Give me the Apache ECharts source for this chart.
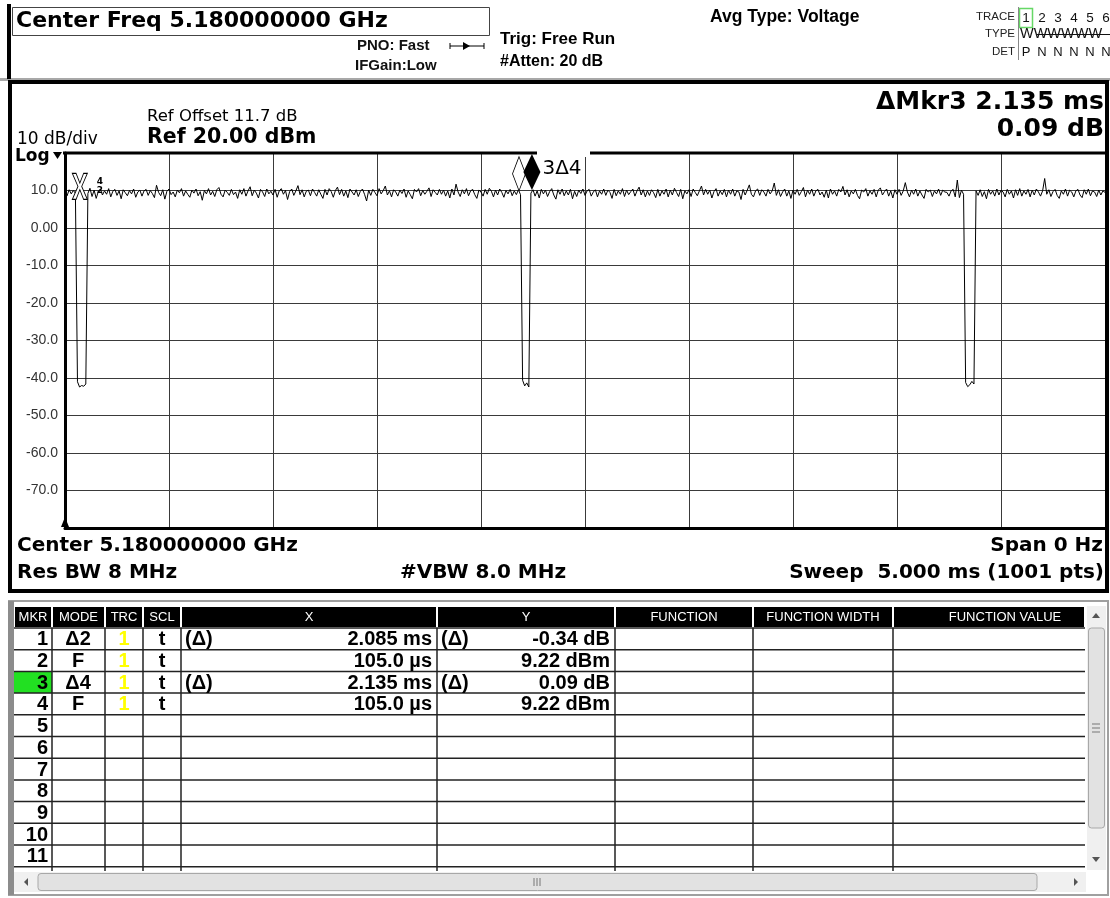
<!DOCTYPE html>
<html>
<head>
<meta charset="utf-8">
<script src="https://cdn.jsdelivr.net/npm/echarts@6/dist/echarts.min.js"></script>
<style>
  html, body { margin: 0; padding: 0; background: #fff; }
  #main { width: 1110px; height: 898px; }
</style>
</head>
<body>
<div id="main"></div>
<script>
// sweep: 0..5 ms, one reading every 0.01 ms (dBm)
const STEP_MS = 0.01;
const traceDb = [
  9.8, 8.6, 10.2, 9.1, 10.0, 9.3, -41.0, -42.4, -42.0, -42.2, -41.6, 9.2, 10.6, 8.4, 10.1, 7.9, 9.7, 10.4, 8.8, 9.9,
  9.0, 10.5, 8.3, 9.8, 10.3, 8.7, 9.9, 7.8, 10.2, 9.4, 8.6, 10.0, 9.1, 10.4, 8.2, 9.6, 10.1, 8.5, 9.9, 10.3,
  8.7, 10.0, 9.2, 8.1, 11.4, 9.5, 8.6, 10.2, 7.7, 9.8, 10.4, 8.9, 9.6, 8.3, 10.1, 9.4, 10.5, 8.5, 9.9, 9.0,
  8.2, 10.1, 9.3, 10.4, 8.6, 9.7, 7.4, 10.0, 9.1, 10.5, 8.8, 9.8, 8.4, 10.2, 10.8, 9.0, 8.3, 10.1, 9.5, 8.7,
  10.3, 8.9, 9.6, 7.9, 10.2, 9.0, 10.5, 8.5, 9.9, 11.0, 8.6, 10.1, 9.3, 8.0, 10.3, 9.6, 8.4, 10.4, 9.1, 9.8,
  8.8, 10.3, 8.2, 9.9, 10.5, 9.0, 10.0, 7.6, 9.7, 10.4, 8.7, 9.9, 11.3, 8.9, 10.2, 8.3, 9.8, 10.1, 8.6, 10.4,
  9.5, 8.5, 10.2, 9.0, 7.9, 10.3, 8.8, 10.5, 9.7, 8.2, 10.0, 10.9, 8.9, 10.3, 8.5, 9.9, 8.1, 10.4, 9.6, 8.8,
  10.2, 8.4, 9.8, 10.4, 9.0, 7.2, 10.1, 8.7, 10.3, 9.5, 8.6, 10.5, 9.1, 10.0, 11.2, 8.8, 9.9, 8.3, 10.2, 9.6,
  8.5, 10.1, 9.2, 10.4, 8.2, 9.9, 8.9, 7.8, 10.3, 9.6, 10.5, 8.6, 10.0, 9.0, 9.8, 10.7, 8.4, 10.2, 9.5, 8.8,
  10.3, 9.0, 10.1, 8.5, 9.9, 8.0, 10.4, 8.8, 11.7, 9.6, 8.4, 10.2, 9.1, 10.5, 8.6, 9.9, 10.3, 8.9, 7.9, 10.1,
  9.6, 8.5, 10.3, 9.0, 10.6, 9.8, 8.3, 10.1, 8.8, 10.4, 9.5, 8.2, 10.0, 9.1, 10.3, 8.6, 9.9, 8.9, 10.2, 8.88,
  -40.6, -42.1, -41.3, -42.4, 9.31, 10.2, 8.5, 9.9, 8.0, 10.3, 9.1, 10.1, 8.4, 9.7, 10.5, 8.8, 7.7, 10.2, 9.0, 10.4,
  8.6, 9.9, 8.8, 10.3, 7.8, 9.8, 8.4, 10.1, 9.2, 10.4, 8.7, 9.9, 10.3, 8.5, 9.6, 10.2, 8.3, 9.9, 9.0, 10.4,
  8.7, 10.1, 9.5, 7.9, 10.3, 8.6, 9.9, 9.0, 10.5, 8.4, 10.1, 8.9, 9.7, 10.4, 8.5, 9.9, 10.9, 8.8, 10.2, 8.3,
  9.9, 8.7, 10.2, 9.4, 8.1, 10.3, 8.5, 9.9, 9.0, 10.4, 8.3, 10.1, 8.8, 10.6, 9.5, 8.4, 10.3, 7.8, 9.9, 9.1,
  10.2, 8.4, 10.4, 9.5, 8.6, 9.9, 11.2, 8.8, 10.3, 9.0, 10.1, 8.0, 9.7, 10.5, 8.5, 9.9, 8.9, 10.3, 8.3, 10.1,
  9.0, 10.4, 8.5, 9.9, 9.6, 7.6, 10.3, 8.8, 10.1, 11.5, 9.0, 8.3, 9.9, 10.4, 8.7, 10.2, 9.6, 8.5, 10.3, 9.1,
  9.9, 12.0, 8.7, 10.2, 8.4, 9.6, 10.4, 8.5, 9.9, 7.9, 10.1, 9.0, 10.3, 8.7, 9.7, 10.8, 8.3, 10.1, 9.0, 10.4,
  8.5, 9.9, 10.3, 8.8, 9.6, 8.2, 10.1, 8.0, 10.4, 9.0, 9.9, 8.5, 10.3, 9.6, 11.1, 8.8, 10.2, 8.3, 9.9, 9.1,
  10.3, 8.7, 7.8, 10.1, 9.6, 10.5, 8.5, 9.9, 9.0, 10.3, 8.3, 10.1, 10.7, 8.8, 9.7, 10.4, 8.5, 9.9, 8.0, 10.2,
  9.0, 10.3, 8.7, 9.9, 12.1, 9.6, 8.3, 10.1, 9.0, 10.4, 8.5, 9.9, 8.8, 7.9, 10.3, 9.6, 10.1, 8.4, 9.9, 9.1,
  10.4, 8.7, 10.1, 9.6, 9.5, 8.5, 9.9, 10.3, 8.3, 12.8, 8.1, 10.1, 9.0, -41.2, -42.3, -41.8, -40.9, -41.6, 9.9, 8.7,
  10.2, 8.4, 9.7, 7.8, 10.3, 9.0, 9.9, 8.5, 10.4, 8.8, 10.1, 9.6, 8.3, 10.3, 9.0, 9.9, 8.0, 10.2, 8.7, 10.5,
  8.5, 9.9, 9.0, 10.3, 8.3, 10.1, 8.8, 10.4, 9.6, 8.5, 9.9, 13.2, 9.0, 10.2, 8.4, 9.7, 10.3, 8.7, 7.9, 9.9,
  9.0, 10.4, 8.5, 10.1, 9.6, 8.3, 9.9, 10.3, 8.8, 8.1, 10.2, 9.0, 10.4, 8.6, 9.9, 9.6, 8.4, 10.1, 8.8, 9.9,
  9.5
];

// markers (time in ms, level in dBm)
const mkrNum = ['1', '2', '3', '4'];
const mkrMode = ['\u03942', 'F', '\u03944', 'F'];
const mkrTime = [2.19, 0.105, 2.24, 0.105];
const mkrLevel = [8.88, 9.22, 9.31, 9.22];
const mkrXText = ['2.085 ms', '105.0 \u00b5s', '2.135 ms', '105.0 \u00b5s'];
const mkrYText = ['-0.34 dB', '9.22 dBm', '0.09 dB', '9.22 dBm'];
const mkrDelta = [true, false, true, false];

const tableHeads = ['MKR', 'MODE', 'TRC', 'SCL', 'X', 'Y', 'FUNCTION', 'FUNCTION WIDTH', 'FUNCTION VALUE'];

const chart = echarts.init(document.getElementById('main'));

const traceData = traceDb.map((v, i) => [+(i * STEP_MS).toFixed(3), v]);

// drawing helpers for the instrument screen furniture
const els = [];
function txt(x, y, s, size, o) {
  o = o || {};
  const al = o.align || 'left';
  els.push({
    type: 'text', x: x, y: y, z: o.z || 20,
    style: {
      text: s, fill: o.color || '#000', fontSize: size,
      fontWeight: o.bold ? 'bold' : 'normal',
      fontFamily: o.font || 'DejaVu Sans',
      align: al, textAlign: al, verticalAlign: 'middle', textVerticalAlign: 'middle'
    }
  });
}
function rect(x, y, w, h, fill, stroke, lw, z, r) {
  els.push({
    type: 'rect', z: z || 5,
    shape: { x: x, y: y, width: w, height: h, r: r || 0 },
    style: { fill: fill || 'none', stroke: stroke || null, lineWidth: lw || 0 }
  });
}
function line(x1, y1, x2, y2, stroke, lw, z) {
  els.push({
    type: 'line', z: z || 6,
    shape: { x1: x1, y1: y1, x2: x2, y2: y2 },
    style: { stroke: stroke, lineWidth: lw }
  });
}
function poly(pts, fill, z) {
  els.push({ type: 'polygon', z: z || 12, shape: { points: pts }, style: { fill: fill } });
}

// ---- top status bar
rect(7, 4, 4, 75, '#000');
rect(12.5, 7.5, 477, 28, '#fff', '#444', 1);
txt(16, 21, 'Center Freq 5.180000000 GHz', 22, { bold: true });
txt(357, 46, 'PNO: Fast', 15, { font: 'Liberation Sans', bold: true, color: '#111' });
line(450, 46, 484, 46, '#000', 1);
line(450, 43, 450, 49, '#000', 1);
line(484, 43, 484, 49, '#000', 1);
poly([[463, 42], [463, 50], [470, 46]], '#000');
txt(355, 66, 'IFGain:Low', 15, { font: 'Liberation Sans', bold: true, color: '#111' });
txt(500, 39, 'Trig: Free Run', 17, { font: 'Liberation Sans', bold: true });
txt(500, 62, '#Atten: 20 dB', 16, { font: 'Liberation Sans', bold: true });
txt(710, 17, 'Avg Type: Voltage', 17.5, { font: 'Liberation Sans', bold: true });
txt(1015, 17, 'TRACE', 11.5, { font: 'Liberation Sans', align: 'right', color: '#222' });
txt(1015, 34, 'TYPE', 11.5, { font: 'Liberation Sans', align: 'right', color: '#222' });
txt(1015, 52, 'DET', 11.5, { font: 'Liberation Sans', align: 'right', color: '#222' });
line(1018.5, 7, 1018.5, 60, '#888', 1);
rect(1019.5, 8.5, 13, 19, 'none', '#66d866', 1.5);
['1', '2', '3', '4', '5', '6'].forEach((d, i) => {
  txt(1026 + i * 16, 18, d, 13.5, { font: 'Liberation Sans', align: 'center', color: '#111' });
  txt(1026 + i * 16, 52, i === 0 ? 'P' : 'N', 13, { font: 'Liberation Sans', align: 'center', color: '#111' });
});
txt(1020, 34, 'WWWWWW', 14.5, { font: 'Liberation Sans', color: '#111' });
line(1036, 34.5, 1110, 34.5, '#111', 1);

// ---- graph window
rect(0, 78, 1110, 3, '#a8a8a8', null, 0, 4);
rect(10, 82, 1097, 509, 'none', '#000', 4, 10);
txt(147, 117, 'Ref Offset 11.7 dB', 16.5);
txt(147, 138, 'Ref 20.00 dBm', 20.5, { bold: true });
txt(17, 140, '10 dB/div', 17);
txt(15, 157, 'Log', 17, { bold: true });
poly([[53, 152], [62, 152], [57.5, 159]], '#000');
txt(1104, 102, '\u0394Mkr3 2.135 ms', 25, { bold: true, align: 'right' });
txt(1104, 129, '0.09 dB', 25, { bold: true, align: 'right' });
// plot top border with the gap behind the active marker label
line(63, 153, 1105, 153, '#000', 3, 10);
rect(537, 149, 53, 8, '#fff', null, 0, 11);
poly([[61, 527], [69, 527], [65, 517]], '#000');
txt(17, 546, 'Center 5.180000000 GHz', 20, { bold: true });
txt(1103, 546, 'Span 0 Hz', 20, { bold: true, align: 'right' });
txt(17, 573, 'Res BW 8 MHz', 20, { bold: true });
txt(400, 573, '#VBW 8.0 MHz', 20, { bold: true });
txt(1104, 573, 'Sweep  5.000 ms (1001 pts)', 20, { bold: true, align: 'right' });

// ---- marker table
const cols = [14, 52, 105, 143, 181, 437, 615, 753, 893, 1085];
const ROW0 = 628, ROWH = 21.7;
rect(9, 601, 1099, 294, '#fff', '#a0a0a0', 2, 3);
rect(8, 601, 6, 294, '#8c8c8c', null, 0, 4);
tableHeads.forEach((h, i) => {
  rect(cols[i] + 1, 607, cols[i + 1] - cols[i] - 2, 20, '#000');
  let cx = (cols[i] + cols[i + 1]) / 2;
  if (i === 8) cx = 1005;
  txt(cx, 617, h, 13, { font: 'Liberation Sans', color: '#fff', align: 'center' });
});
rect(14, ROW0 + 2 * ROWH, 38, ROWH, '#22e022');
for (let k = 0; k <= 11; k++) line(14, ROW0 + k * ROWH, 1085, ROW0 + k * ROWH, '#222', 1.5);
for (let i = 1; i < cols.length - 1; i++) line(cols[i], ROW0, cols[i], 871, '#222', 1.5);
for (let r = 0; r < 11; r++) {
  const yc = ROW0 + (r + 0.5) * ROWH + 1;
  txt(48, yc, String(r + 1), 20, { font: 'Liberation Sans', bold: true, align: 'right' });
  if (r < mkrNum.length) {
    txt(78, yc, mkrMode[r], 20, { font: 'Liberation Sans', bold: true, align: 'center' });
    txt(124, yc, '1', 20, { font: 'Liberation Sans', bold: true, align: 'center', color: '#ffff00' });
    txt(162, yc, 't', 20, { font: 'Liberation Sans', bold: true, align: 'center' });
    if (mkrDelta[r]) {
      txt(185, yc, '(\u0394)', 20, { font: 'Liberation Sans', bold: true });
      txt(441, yc, '(\u0394)', 20, { font: 'Liberation Sans', bold: true });
    }
    txt(432, yc, mkrXText[r], 20, { font: 'Liberation Sans', bold: true, align: 'right' });
    txt(610, yc, mkrYText[r], 20, { font: 'Liberation Sans', bold: true, align: 'right' });
  }
}
// scroll bars
rect(1087, 606, 19, 264, '#f0f0f0');
poly([[1092, 618], [1100, 618], [1096, 613]], '#555');
rect(1088.5, 628, 16, 200, '#e2e2e2', '#a8a8a8', 1, 6, 3);
line(1092, 724, 1100, 724, '#777', 1, 7);
line(1092, 728, 1100, 728, '#777', 1, 7);
line(1092, 732, 1100, 732, '#777', 1, 7);
poly([[1092, 857], [1100, 857], [1096, 862]], '#555');
rect(14, 872, 1072, 20, '#f0f0f0');
poly([[24, 882], [28, 878], [28, 886]], '#555');
rect(38, 873.5, 999, 17, '#e2e2e2', '#a8a8a8', 1, 6, 3);
line(534, 878, 534, 886, '#777', 1, 7);
line(537, 878, 537, 886, '#777', 1, 7);
line(540, 878, 540, 886, '#777', 1, 7);
poly([[1074, 878], [1074, 886], [1078, 882]], '#555');

const gridColor = '#3a3a3a';
const option = {
  animation: false,
  backgroundColor: '#fff',
  grid: { left: 65, top: 153, width: 1040, height: 375 },
  xAxis: {
    type: 'value', min: 0, max: 5, interval: 0.5,
    axisLine: { show: true, onZero: false, lineStyle: { color: '#000', width: 3 } },
    axisTick: { show: false },
    axisLabel: { show: false },
    splitLine: { show: true, lineStyle: { color: gridColor, width: 1 } }
  },
  yAxis: {
    type: 'value', min: -80, max: 20, interval: 10,
    axisLine: { show: true, lineStyle: { color: '#000', width: 3 } },
    axisTick: { show: false },
    axisLabel: {
      color: '#333', fontSize: 14, fontFamily: 'Liberation Sans', margin: 7,
      formatter: v => (v === 20 || v === -80) ? '' : (v === 0 ? '0.00' : v.toFixed(1))
    },
    splitLine: { show: true, lineStyle: { color: gridColor, width: 1 } }
  },
  series: [
    {
      name: 'Trace 1', type: 'line', data: traceData, symbol: 'none', z: 3,
      lineStyle: { color: '#000', width: 1 }
    },
    {
      // markers 2 and 4 sit on the same point
      name: 'Mkr 2/4', type: 'scatter', z: 4,
      data: [[mkrTime[1], mkrLevel[1]]],
      symbol: 'path://M0,0 L4,0 L8,12 L12,0 L16,0 L10,16 L16,32 L12,32 L8,20 L4,32 L0,32 L6,16 Z',
      symbolSize: [15, 26], symbolOffset: [-7, -7],
      itemStyle: { color: '#fff', borderColor: '#000', borderWidth: 1, opacity: 1 },
      label: {
        show: true, position: 'right', distance: 9,
        formatter: '{a|4}\n{a|2}',
        rich: { a: { fontSize: 9, fontWeight: 'bold', lineHeight: 9, fontFamily: 'DejaVu Sans', color: '#000' } }
      }
    },
    {
      name: 'Mkr 1', type: 'scatter', z: 4,
      data: [[mkrTime[0], mkrLevel[0]]],
      symbol: 'diamond', symbolSize: [13, 34], symbolOffset: [-1.5, -21],
      itemStyle: { color: '#fff', borderColor: '#000', borderWidth: 1, opacity: 1 }
    },
    {
      name: 'Mkr 3', type: 'scatter', z: 5,
      data: [[mkrTime[2], mkrLevel[2]]],
      symbol: 'diamond', symbolSize: [17, 36], symbolOffset: [1, -21],
      itemStyle: { color: '#000', opacity: 1 },
      label: {
        show: true, position: 'right', distance: 2, offset: [0, -3],
        formatter: '3\u03944', fontSize: 20, color: '#000', fontFamily: 'DejaVu Sans'
      }
    }
  ],
  graphic: { elements: els }
};

chart.setOption(option);
</script>
</body>
</html>
